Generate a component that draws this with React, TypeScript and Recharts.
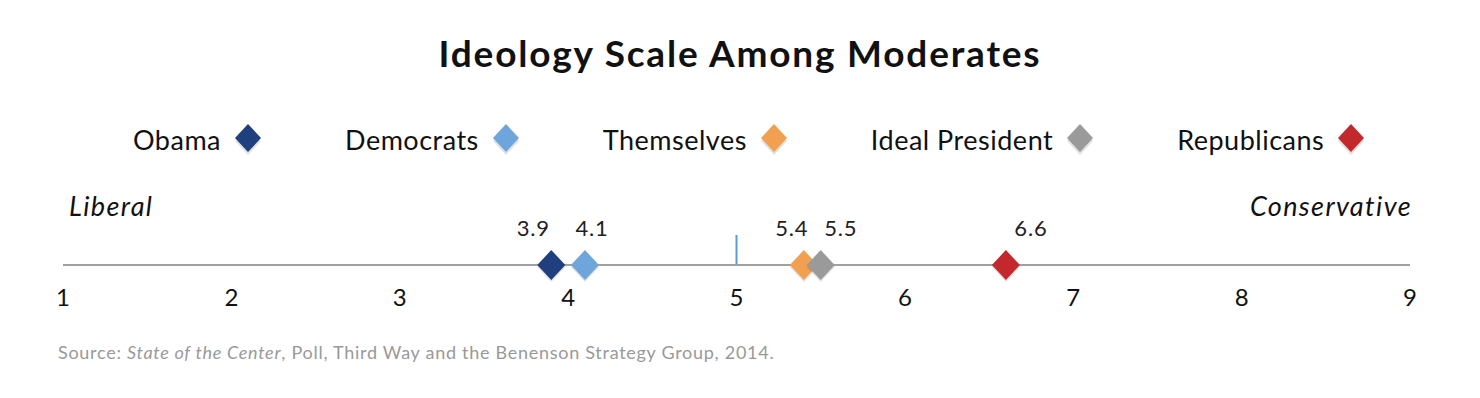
import React from 'react';
import { ScatterChart, Scatter, XAxis, YAxis, ReferenceLine, LabelList } from 'recharts';

const GROUPS = ['Obama', 'Democrats', 'Themselves', 'Ideal President', 'Republicans'];
const SCORES = [3.9, 4.1, 5.4, 5.5, 6.6];
const TICKS = [1, 2, 3, 4, 5, 6, 7, 8, 9];
const MIDPOINT = 5;

const COLORS = ['#1f3f7f', '#6ea6dc', '#f0a050', '#9a9a9a', '#c3282c'];
const LABEL_DX = [-18, 7, -12, 20, 25];

const FONT = 'Lato, "Open Sans", sans-serif';

const Diamond = (props: any) => {
  const { cx, cy, fill } = props;
  const w = 14;
  const h = 15;
  return (
    <g>
      <polygon
        points={`${cx},${cy - h + 2} ${cx + w},${cy + 2} ${cx},${cy + h + 2} ${cx - w},${cy + 2}`}
        fill="#000"
        opacity={0.12}
      />
      <polygon points={`${cx},${cy - h} ${cx + w},${cy} ${cx},${cy + h} ${cx - w},${cy}`} fill={fill} />
    </g>
  );
};

const LegendDiamond = ({ color }: { color: string }) => (
  <svg width={30} height={34} style={{ marginLeft: 12 }}>
    <polygon points="15,3 28,17 15,31 2,17" fill="#000" opacity={0.12} transform="translate(0,2)" />
    <polygon points="15,2 28,16 15,30 2,16" fill={color} />
  </svg>
);

export default function App() {
  return (
    <div style={{ position: 'absolute', left: 0, top: 0, width: 1480, height: 398, background: '#fff', fontFamily: FONT }}>
      <div style={{ position: 'absolute', top: 30, width: 1480, textAlign: 'center', fontSize: 37, fontWeight: 700, letterSpacing: 1.8, color: '#111' }}>
        Ideology Scale Among Moderates
      </div>
      <div style={{ position: 'absolute', top: 122, left: 133, display: 'flex', alignItems: 'center', gap: 82, fontSize: 27, letterSpacing: 0.5, color: '#111' }}>
        {GROUPS.map((g, i) => (
          <div key={g} style={{ display: 'flex', alignItems: 'center' }}>
            <span>{g}</span>
            <LegendDiamond color={COLORS[i]} />
          </div>
        ))}
      </div>
      <div style={{ position: 'absolute', top: 189, left: 69, fontSize: 27, letterSpacing: 1.4, fontStyle: 'italic', color: '#111' }}>Liberal</div>
      <div style={{ position: 'absolute', top: 189, right: 68, fontSize: 27, letterSpacing: 1.4, fontStyle: 'italic', color: '#111' }}>Conservative</div>
      <div style={{ position: 'absolute', top: 341, left: 58, fontSize: 18, letterSpacing: 0.72, color: '#999' }}>
        Source: <i>State of the Center</i>, Poll, Third Way and the Benenson Strategy Group, 2014.
      </div>
      <ScatterChart width={1480} height={398} margin={{ top: 205, right: 70, left: 63, bottom: 0 }} style={{ position: 'absolute', left: 0, top: 0 }}>
        <XAxis
          type="number"
          dataKey="x"
          domain={[1, 9]}
          ticks={TICKS}
          height={133}
          tickLine={false}
          axisLine={{ stroke: '#a0a0a0', strokeWidth: 2 }}
          tick={{ fill: '#111', fontSize: 24, fontFamily: FONT }}
          tickMargin={18}
          interval={0}
        />
        <YAxis type="number" dataKey="y" domain={[0, 1]} hide />
        <ReferenceLine
          segment={[{ x: MIDPOINT, y: 0 }, { x: MIDPOINT, y: 0.5 }]}
          stroke="#5b9bd5"
          strokeWidth={2}
        />
        {GROUPS.map((g, i) => (
          <Scatter
            key={g}
            name={g}
            data={[{ x: SCORES[i], y: 0 }]}
            fill={COLORS[i]}
            shape={<Diamond />}
            isAnimationActive={false}
          >
            <LabelList
              dataKey="x"
              content={(p: any) => (
                <text
                  x={p.x + p.width / 2 + LABEL_DX[i]}
                  y={p.y + p.height / 2 - 29}
                  textAnchor="middle"
                  fontSize={22}
                  letterSpacing={0.8}
                  fontFamily={FONT}
                  fill="#222"
                >
                  {SCORES[i].toFixed(1)}
                </text>
              )}
            />
          </Scatter>
        ))}
      </ScatterChart>
    </div>
  );
}
